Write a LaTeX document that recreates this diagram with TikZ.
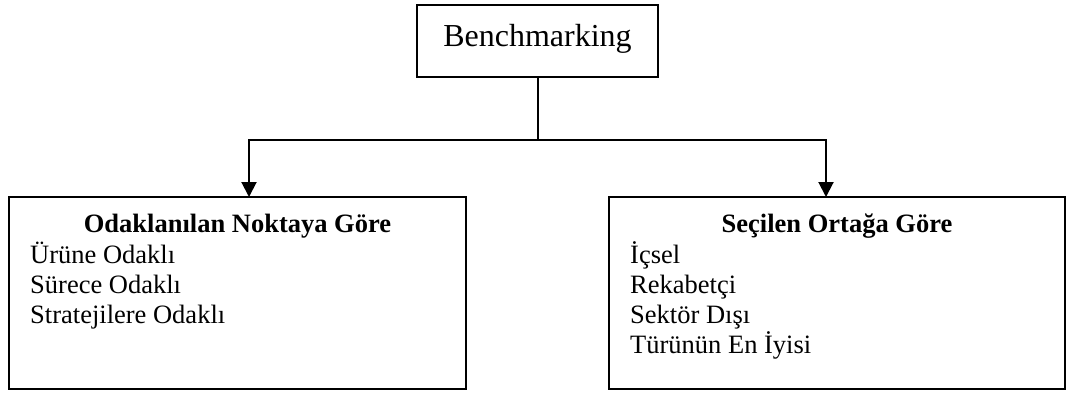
\documentclass[tikz,border=0pt]{standalone}
\usepackage{fontspec}
\setmainfont{Liberation Serif}
\usetikzlibrary{arrows.meta}
\tikzset{
  box/.style={draw, line width=2pt, rectangle, inner sep=0pt},
  link/.style={line width=2pt},
  arrowlink/.style={line width=2pt, -{Triangle[width=15pt,length=15pt]}},
  headtext/.style={font=\fontsize{26.5}{30}\selectfont\bfseries, anchor=base, inner sep=0pt},
  itemtext/.style={font=\fontsize{26.5}{30}\selectfont, anchor=base west, inner sep=0pt},
}
\begin{document}
\begin{tikzpicture}[x=1pt, y=-1pt]
\useasboundingbox (0,0) rectangle (1081,392);

% root box
\node[box, minimum width=241pt, minimum height=72pt] (root) at (537.5,41) {};
\node[font=\fontsize{32}{36}\selectfont, anchor=base, inner sep=0pt] (roottext) at (537.5,46) {Benchmarking};

% two category boxes
\node[box, minimum width=457pt, minimum height=192pt] (focus) at (237.5,293) {};
\node[box, minimum width=456pt, minimum height=192pt] (partner) at (837,293) {};

% connectors
\coordinate (junction) at (537.5,140);
\coordinate (focusin) at (249,197);
\coordinate (partnerin) at (826,197);
\draw[link] (root.south) -- (junction);
\draw[arrowlink] (junction) -| (focusin);
\draw[arrowlink] (junction) -| (partnerin);

% left box contents
\node[headtext] (focushead) at (237.5,232) {Odaklanılan Noktaya Göre};
\node[itemtext] (f1) at (30,263) {Ürüne Odaklı};
\node[itemtext] (f2) at (30,293) {Sürece Odaklı};
\node[itemtext] (f3) at (30,323) {Stratejilere Odaklı};

% right box contents
\node[headtext] (partnerhead) at (837,232) {Seçilen Ortağa Göre};
\node[itemtext] (p1) at (630,263) {İçsel};
\node[itemtext] (p2) at (630,293) {Rekabetçi};
\node[itemtext] (p3) at (630,323) {Sektör Dışı};
\node[itemtext] (p4) at (630,353) {Türünün En İyisi};
\end{tikzpicture}
\end{document}
